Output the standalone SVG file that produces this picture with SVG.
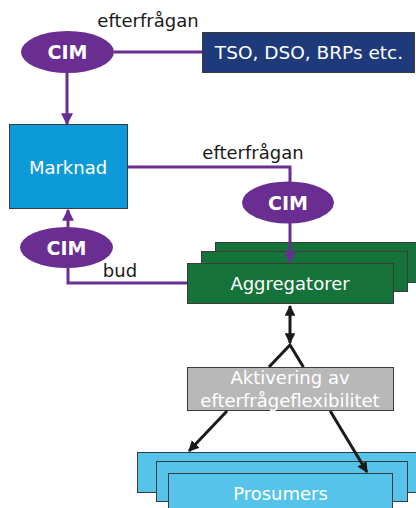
<svg xmlns="http://www.w3.org/2000/svg" width="416" height="508" viewBox="0 0 416 508">
  <defs>
    <style>
      text { font-family: "DejaVu Sans", Verdana, sans-serif; font-size: 18px; text-anchor: middle; }
      .lbl { fill: #1a1a1a; }
      .wt { fill: #ffffff; }
      .cim ellipse { fill: #6a2d91; }
      .cim text { fill: #ffffff; font-weight: bold; font-size: 19px; }
      .box { stroke: #3a3a3a; stroke-width: 1; }
      .purple { fill: none; stroke: #6a2d91; stroke-width: 3; }
      .black { fill: none; stroke: #1a1a1a; stroke-width: 3; }
    </style>
    <marker id="arrP" viewBox="0 0 10 10" refX="9" refY="5" markerWidth="4" markerHeight="4" orient="auto" markerUnits="strokeWidth">
      <path d="M0,0 L10,5 L0,10 Z" fill="#6a2d91"/>
    </marker>
    <marker id="arrK" viewBox="0 0 10 10" refX="9" refY="5" markerWidth="3.6" markerHeight="3.6" orient="auto-start-reverse" markerUnits="strokeWidth">
      <path d="M0,0 L10,5 L0,10 Z" fill="#1a1a1a"/>
    </marker>
  </defs>

  <g id="tso">
    <rect class="box" x="202.5" y="32.5" width="212" height="40" fill="#1f3a7a"/>
    <text class="wt" x="309" y="59" style="font-size:18.5px">TSO, DSO, BRPs etc.</text>
  </g>

  <g id="cim-top" class="cim">
    <ellipse cx="67.5" cy="52" rx="46.5" ry="21"/>
    <text x="67.5" y="59">CIM</text>
  </g>

  <g id="marknad">
    <rect class="box" x="9.5" y="124.5" width="118" height="84" fill="#0d9ad8"/>
    <text class="wt" x="68" y="174">Marknad</text>
  </g>

  <g id="cim-mid" class="cim">
    <ellipse cx="288" cy="202.5" rx="46" ry="21"/>
    <text x="288" y="209.5">CIM</text>
  </g>

  <g id="cim-left" class="cim">
    <ellipse cx="66.5" cy="247.5" rx="46.5" ry="20.5"/>
    <text x="66.5" y="254.5">CIM</text>
  </g>

  <g id="aggregatorer">
    <rect class="box" x="215.5" y="242.5" width="202" height="40" fill="#157238"/>
    <rect class="box" x="201.5" y="251.5" width="206" height="40" fill="#157238"/>
    <rect class="box" x="187.5" y="263.5" width="206" height="40" fill="#157238"/>
    <text class="wt" x="290" y="290">Aggregatorer</text>
  </g>

  <g id="aktivering">
    <rect class="box" x="187.5" y="367.5" width="206" height="43" fill="#b8b8b8" stroke="#555555"/>
    <text class="wt" x="290" y="384">Aktivering av</text>
    <text class="wt" x="290" y="407">efterfrågeflexibilitet</text>
  </g>

  <g id="prosumers">
    <rect class="box" x="137.5" y="452.5" width="281" height="40" fill="#56c4ea"/>
    <rect class="box" x="156.5" y="461.5" width="251" height="40" fill="#56c4ea"/>
    <rect class="box" x="168.5" y="473.5" width="224" height="40" fill="#56c4ea"/>
    <text class="wt" x="280.5" y="500">Prosumers</text>
  </g>

  <!-- connectors, drawn over the stacked boxes; the fan-out lines stop at the grey box edges -->
  <g id="connectors">
    <path class="purple" d="M114,52 H202"/>
    <path class="purple" d="M67,73 V124" marker-end="url(#arrP)"/>
    <path class="purple" d="M128,167 H290 V182"/>
    <path class="purple" d="M290,223 V262" marker-end="url(#arrP)"/>
    <path class="purple" d="M68,227 V210" marker-end="url(#arrP)"/>
    <path class="purple" d="M68,268 V283 H187"/>
    <path class="black" d="M290,306 V343" marker-start="url(#arrK)" marker-end="url(#arrK)"/>
    <path class="black" d="M290,345 L269,367 M303.4,367 L290,345 L269,367"/>
    <path class="black" d="M227,411 L189,451" marker-end="url(#arrK)"/>
    <path class="black" d="M330.2,411 L367,472" marker-end="url(#arrK)"/>
    <text class="lbl" x="148" y="27">efterfrågan</text>
    <text class="lbl" x="253" y="159">efterfrågan</text>
    <text class="lbl" x="120" y="277">bud</text>
  </g>
</svg>
